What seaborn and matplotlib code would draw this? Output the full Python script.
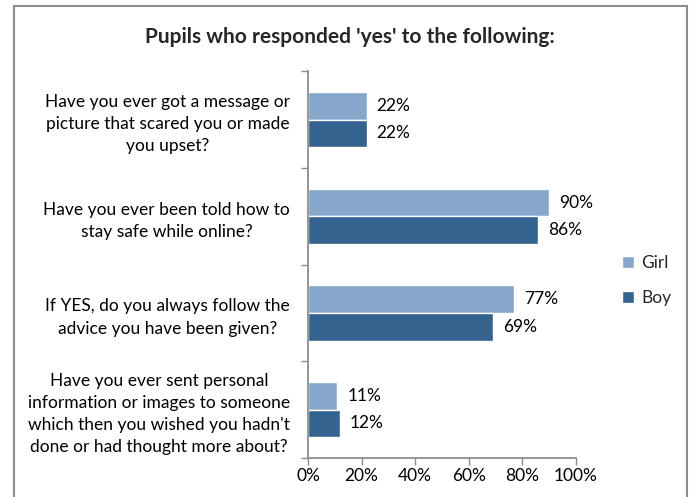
import matplotlib
matplotlib.use("Agg")
import matplotlib.pyplot as plt
from matplotlib.patches import Rectangle
from matplotlib.ticker import FixedLocator, PercentFormatter
import seaborn as sns
import pandas as pd

# Survey questions and the share of pupils answering 'yes'
questions = [
    "Have you ever got a message or\npicture that scared you or made\nyou upset?",
    "Have you ever been told how to\nstay safe while online?",
    "If YES, do you always follow the\nadvice you have been given?",
    "Have you ever sent personal\ninformation or images to someone\nwhich then you wished you hadn't\ndone or had thought more about?",
]
groups = ["Girl", "Boy"]
girl_yes = [22, 90, 77, 11]
boy_yes = [22, 86, 69, 12]
x_ticks = [0, 20, 40, 60, 80, 100]

df = pd.DataFrame({
    "question": questions * 2,
    "group": ["Girl"] * len(questions) + ["Boy"] * len(questions),
    "value": girl_yes + boy_yes,
})

sns.set_theme(style="white")
plt.rcParams["font.family"] = ["Lato", "DejaVu Sans"]

girl_color = "#86A7CB"
boy_color = "#35638F"
axis_grey = "#8C8C8C"
fs = 12.5

fig = plt.figure(figsize=(6.96, 4.97), dpi=100)
fig.patch.set_facecolor("white")
ax = fig.add_axes([0.4425, 0.0785, 0.3851, 0.778])

sns.barplot(
    data=df, y="question", x="value", hue="group", hue_order=groups,
    order=questions, orient="h", palette=[girl_color, boy_color],
    width=0.57, gap=0, saturation=1, ax=ax, legend=True,
)

ax.set_xlim(0, 100)
ax.set_ylim(len(questions) - 0.5, -0.5)
ax.set_xlabel("")
ax.set_ylabel("")

# x axis: percentages with outward ticks
ax.xaxis.set_major_locator(FixedLocator(x_ticks))
ax.xaxis.set_major_formatter(PercentFormatter(decimals=0))
ax.tick_params(axis="x", direction="out", length=5, width=1, color=axis_grey,
               labelsize=fs, pad=2, bottom=True, labelcolor="black")

# y axis: labels at category centres, tick marks at category boundaries
ax.tick_params(axis="y", which="major", length=0, labelsize=fs, pad=13,
               labelcolor="black")
for lbl in ax.get_yticklabels():
    lbl.set_multialignment("center")
    lbl.set_linespacing(1.47)
ax.yaxis.set_minor_locator(FixedLocator([i - 0.5 for i in range(len(questions) + 1)]))
ax.tick_params(axis="y", which="minor", direction="out", length=5, width=1,
               color=axis_grey, left=True)

for side in ("top", "right"):
    ax.spines[side].set_visible(False)
for side in ("left", "bottom"):
    ax.spines[side].set_color(axis_grey)
    ax.spines[side].set_linewidth(1.3)

# value labels beside each bar
for container, vals in zip(ax.containers, [girl_yes, boy_yes]):
    ax.bar_label(container, labels=[f"{v}%" for v in vals], padding=7,
                 fontsize=fs, color="black")

# legend on the right, no frame
handles, labels = ax.get_legend_handles_labels()
ax.legend(handles, labels, loc="center left", bbox_to_anchor=(0.894, 0.436),
          bbox_transform=fig.transFigure, frameon=False, fontsize=fs,
          handlelength=0.7, handleheight=0.7, handletextpad=0.4,
          labelspacing=1.1, borderpad=0, borderaxespad=0)

fig.text(0.503, 0.925, "Pupils who responded 'yes' to the following:",
         ha="center", va="center", fontsize=15, fontweight="bold")

# chart frame
fig.patches.append(Rectangle((14 / 696, -0.02), (687 - 14) / 696, 1.02 - 6 / 497,
                             transform=fig.transFigure, fill=False,
                             edgecolor="#8C8C8C", linewidth=1.5))

fig.savefig("out.png", dpi=100)
